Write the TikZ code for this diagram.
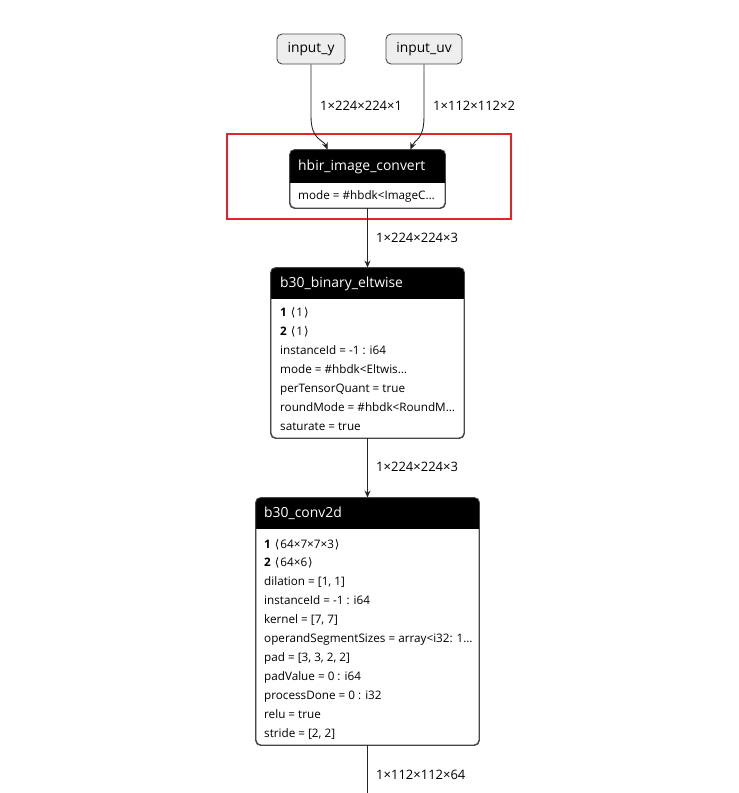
\documentclass[tikz,border=0pt]{standalone}
\usepackage{fontspec}
\setmainfont{Open Sans}
\newfontfamily\symf{DejaVu Sans}
\usetikzlibrary{arrows.meta}
\definecolor{bordc}{HTML}{474747}
\definecolor{inpfill}{HTML}{EEEEEE}
\definecolor{hlred}{HTML}{E5232B}
\newcommand{\lang}{\hspace{4pt}{\symf\char"27E8}\hspace{1pt}}
\newcommand{\rang}{\hspace{1pt}{\symf\char"27E9}}
\begin{document}
\begin{tikzpicture}[x=1pt,y=-1pt,
  inbox/.style={draw=bordc, fill=inpfill, rounded corners=5pt, line width=0.9pt, inner sep=0pt,
     minimum height=30pt, font=\fontsize{13.8}{16}\selectfont},
  opbox/.style={draw=bordc, rounded corners=5pt, line width=0.9pt, inner sep=0pt},
  ttl/.style={anchor=west, text=white, inner sep=0pt, text height=10pt, text depth=3pt, font=\fontsize{13.9}{16}\selectfont},
  attr/.style={anchor=west, inner sep=0pt, text height=8.5pt, text depth=2.5pt, font=\fontsize{11.7}{13}\selectfont},
  elbl/.style={anchor=west, inner sep=0pt, text height=8.5pt, text depth=2.5pt, font=\fontsize{13}{15}\selectfont},
  edge/.style={line width=0.9pt, draw=black!85, -{Stealth[length=7pt,width=6pt]}},
  plain/.style={line width=0.9pt, draw=black!85}
]
\useasboundingbox (0,0) rectangle (739,793);

% input nodes
\node[inbox, minimum width=68pt] (iny) at (311,49) {input\_y};
\node[inbox, minimum width=76pt] (inuv) at (424,49) {input\_uv};

% highlight
\node[draw=hlred, line width=2pt, minimum width=284pt, minimum height=85pt, inner sep=0pt] (hl) at (369,176.5) {};

% hbir_image_convert
\node[opbox, minimum width=155pt, minimum height=58pt] (hbir) at (367.5,179) {};
\begin{scope}
  \clip[rounded corners=5pt] (hbir.south west) rectangle (hbir.north east);
  \fill[black] (hbir.north west) rectangle ([yshift=-33pt]hbir.north east);
\end{scope}
\draw[bordc, line width=0.9pt, rounded corners=5pt] (hbir.south west) rectangle (hbir.north east);
\node[ttl] (hbirt) at (298,167) {hbir\_image\_convert};
\node[attr] (hbira) at (298,196) {mode = \#hbdk<ImageC…};

% b30_binary_eltwise
\node[opbox, minimum width=193pt, minimum height=170pt] (elt) at (367.5,353) {};
\begin{scope}
  \clip[rounded corners=5pt] (elt.south west) rectangle (elt.north east);
  \fill[black] (elt.north west) rectangle ([yshift=-31pt]elt.north east);
\end{scope}
\draw[bordc, line width=0.9pt, rounded corners=5pt] (elt.south west) rectangle (elt.north east);
\node[ttl] (eltt) at (280,284) {b30\_binary\_eltwise};
\node[attr] (elt1) at (280,313) {\textbf{1}\lang 1\rang};
\node[attr] (elt2) at (280,332) {\textbf{2}\lang 1\rang};
\node[attr] (elt3) at (280,351) {instanceId = -1 : i64};
\node[attr] (elt4) at (280,370) {mode = \#hbdk<Eltwis…};
\node[attr] (elt5) at (280,389) {perTensorQuant = true};
\node[attr] (elt6) at (280,408) {roundMode = \#hbdk<RoundM…};
\node[attr] (elt7) at (280,427) {saturate = true};

% b30_conv2d
\node[opbox, minimum width=223pt, minimum height=247pt] (conv) at (367.5,621.5) {};
\begin{scope}
  \clip[rounded corners=5pt] (conv.south west) rectangle (conv.north east);
  \fill[black] (conv.north west) rectangle ([yshift=-31pt]conv.north east);
\end{scope}
\draw[bordc, line width=0.9pt, rounded corners=5pt] (conv.south west) rectangle (conv.north east);
\node[ttl] (convt) at (264,514) {b30\_conv2d};
\node[attr] (c1) at (264,545) {\textbf{1}\lang 64×7×7×3\rang};
\node[attr] (c2) at (264,563) {\textbf{2}\lang 64×6\rang};
\node[attr] (c3) at (264,582) {dilation = [1, 1]};
\node[attr] (c4) at (264,601) {instanceId = -1 : i64};
\node[attr] (c5) at (264,620) {kernel = [7, 7]};
\node[attr] (c6) at (264,639) {operandSegmentSizes = array<i32: 1…};
\node[attr] (c7) at (264,658) {pad = [3, 3, 2, 2]};
\node[attr] (c8) at (264,677) {padValue = 0 : i64};
\node[attr] (c9) at (264,696) {processDone = 0 : i32};
\node[attr] (c10) at (264,715) {relu = true};
\node[attr] (c11) at (264,734) {stride = [2, 2]};

% edges
\draw[edge] (iny.south) -- ([yshift=-52pt]iny.south) .. controls ([yshift=-76pt]iny.south) and ([xshift=34pt,yshift=10pt]hbir.north west) .. ([xshift=38pt]hbir.north west);
\draw[edge] (inuv.south) -- ([yshift=-52pt]inuv.south) .. controls ([yshift=-76pt]inuv.south) and ([xshift=-31pt,yshift=10pt]hbir.north east) .. ([xshift=-35pt]hbir.north east);
\node[elbl] (l1) at (320,107) {1×224×224×1};
\node[elbl] (l2) at (433,107) {1×112×112×2};

\draw[edge] (hbir.south) -- (elt.north);
\node[elbl] (l3) at (376,239) {1×224×224×3};
\draw[edge] (elt.south) -- (conv.north);
\node[elbl] (l4) at (376,468) {1×224×224×3};
\coordinate (bot) at (367.5,793);
\draw[plain] (conv.south) -- (bot);
\node[elbl] (l5) at (376,776) {1×112×112×64};
\end{tikzpicture}
\end{document}
